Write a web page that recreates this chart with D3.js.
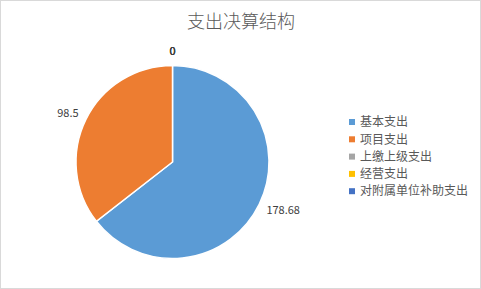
<!DOCTYPE html>
<html>
<head>
<meta charset="utf-8">
<script src="https://cdn.jsdelivr.net/npm/d3@7"></script>
<style>
  body { margin: 0; background: #fff; }
  svg text { font-family: "Noto Sans CJK SC", "Microsoft YaHei", sans-serif; }
  .title { font-size: 18px; fill: #595959; font-weight: 300; }
  .legend text { font-size: 12px; fill: #595959; }
  .valueLabel { font-size: 11px; fill: #404040; }
</style>
</head>
<body>
<svg id="piegraph"></svg>
<script>
//categories and values
var categories = ["基本支出", "项目支出", "上缴上级支出", "经营支出", "对附属单位补助支出"];
var values = [178.68, 98.5, 0, 0, 0];
var colors = ["#5B9BD5", "#ED7D31", "#A5A5A5", "#FFC000", "#4472C4"];
var titleText = "支出决算结构";

var initPieGraph = function()
{
    var screen = {width:481, height:289}
    var center = {x:172.5, y:162}
    var radius = 96.5

    var svg = d3.select("#piegraph")
        .attr("width", screen.width)
        .attr("height", screen.height)

    //frame
    svg.append("rect")
       .attr("x", 0.5)
       .attr("y", 0.5)
       .attr("width", screen.width - 1)
       .attr("height", screen.height - 1)
       .attr("fill", "#fff")
       .attr("stroke", "#d9d9d9")

    //title
    svg.append("text")
       .text(titleText)
       .classed("title", true)
       .attr("text-anchor", "middle")
       .attr("x", 241)
       .attr("y", 28)

    var rows = categories.map(function(name, i)
    {
        return {name:name, value:values[i], color:colors[i]}
    })

    var pie = d3.pie()
        .sort(null)
        .value(function(d) {return d.value})

    var arc = d3.arc()
        .innerRadius(0)
        .outerRadius(radius)

    var target = svg.append("g")
        .attr("transform", "translate(" + center.x + "," + center.y + ")")

    var slices = pie(rows)

    target.selectAll("path")
          .data(slices)
          .enter()
          .append("path")
          .attr("d", arc)
          .attr("fill", function(d) {return d.data.color})
          .attr("stroke", "#fff")
          .attr("stroke-width", function(d) {return d.value > 0 ? 1.5 : 0})

    //value labels outside the slices
    var labelR = radius + 8
    target.selectAll("text.valueLabel")
          .data(slices)
          .enter()
          .append("text")
          .classed("valueLabel", true)
          .text(function(d) {return d.data.value})
          .attr("x", function(d)
          {
              var a = (d.startAngle + d.endAngle) / 2
              return labelR * Math.sin(a)
          })
          .attr("y", function(d)
          {
              var a = (d.startAngle + d.endAngle) / 2
              return -labelR * Math.cos(a) - Math.cos(a) * 6
          })
          .attr("dy", "0.35em")
          .attr("text-anchor", function(d)
          {
              var s = Math.sin((d.startAngle + d.endAngle) / 2)
              if (Math.abs(s) < 0.3) return "middle"
              return s > 0 ? "start" : "end"
          })

    //legend
    var legend = svg.append("g")
        .classed("legend", true)
        .attr("transform", "translate(349,122)")

    var entries = legend.selectAll("g")
        .data(rows)
        .enter()
        .append("g")
        .attr("transform", function(d, i) {return "translate(0," + (i * 17.3) + ")"})

    entries.append("rect")
           .attr("x", 0)
           .attr("y", -3)
           .attr("width", 6)
           .attr("height", 6)
           .attr("fill", function(d) {return d.color})

    entries.append("text")
           .text(function(d) {return d.name})
           .attr("x", 11)
           .attr("y", 0)
           .attr("dy", "0.35em")
}

initPieGraph()
</script>
</body>
</html>
